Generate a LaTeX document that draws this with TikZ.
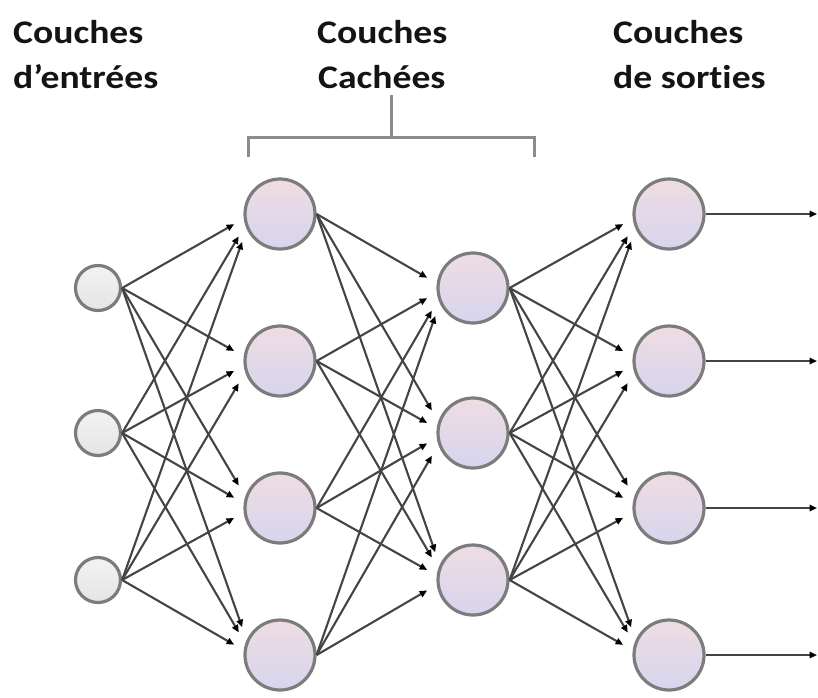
\documentclass[tikz,border=0pt]{standalone}
\usepackage{fontspec}
\setmainfont{Carlito}[FakeStretch=1.14,Ligatures=NoCommon]
\usetikzlibrary{arrows.meta,calc}
\definecolor{ringgray}{HTML}{7C7C7C}
\definecolor{pinktop}{HTML}{EFDCE2}
\definecolor{lavbot}{HTML}{D6D5EE}
\definecolor{intop}{HTML}{F3F3F3}
\definecolor{inbot}{HTML}{E4E4E4}
\definecolor{linkgray}{HTML}{444444}
\definecolor{brackgray}{HTML}{8C8C8C}
\tikzset{
  neuron/.style={circle, draw=ringgray, line width=3.2pt, minimum size=70pt, inner sep=0pt,
    top color=pinktop, bottom color=lavbot},
  inneuron/.style={circle, draw=ringgray, line width=3.2pt, minimum size=45pt, inner sep=0pt,
    top color=intop, bottom color=inbot},
  link/.style={draw=linkgray, line width=2.1pt,
    -{Triangle[length=7.5pt,width=6.5pt,color=black]}},
  brackline/.style={draw=brackgray, line width=3pt},
  lbl/.style={anchor=base west, inner sep=0pt, font=\fontsize{33}{40}\selectfont\bfseries, text=black!92}
}
\begin{document}
\begin{tikzpicture}[x=1pt,y=-1pt]
\useasboundingbox (0,0) rectangle (818,697);
% labels
\node[lbl] (t1a) at (13,43) {Couches};
\node[lbl] (t1b) at (13,88) {d’entrées};
\node[lbl] (t2a) at (317,43) {Couches};
\node[lbl] (t2b) at (318,88) {Cachées};
\node[lbl] (t3a) at (613,43) {Couches};
\node[lbl] (t3b) at (613,88) {de sorties};
% bracket
\coordinate (bl) at (248,157);
\coordinate (br) at (534,157);
\coordinate (bst) at (391,95);
\draw[brackline] (bl) |- (br |- 0,137) -- (br);
\draw[brackline] (bst) -- (bst |- 0,137);
% nodes
\foreach \i/\y in {1/288,2/433,3/580}{
  \node[inneuron] (in\i) at (98,\y) {};
  \node[neuron] (g\i) at (473,\y) {};
  \coordinate (ag\i) at (445,\y);
}
\foreach \j/\y in {1/214,2/361,3/508,4/655}{
  \node[neuron] (h\j) at (280,\y) {};
  \node[neuron] (o\j) at (669,\y) {};
  \coordinate (ah\j) at (252,\y);
  \coordinate (ao\j) at (641,\y);
  \coordinate (end\j) at (817,\y);
}
% input -> hidden 1
\foreach \i/\sy in {1/288,2/433,3/580}{
  \foreach \j/\ty in {1/214,2/361,3/508,4/655}{
    \pgfmathsetmacro\ddx{(252-122)/100}
    \pgfmathsetmacro\ddy{(\ty-\sy)/100}
    \pgfmathsetmacro\ux{\ddx/sqrt(\ddx*\ddx+\ddy*\ddy)}
    \pgfmathsetmacro\sh{sqrt(784*\ux*\ux+1425)-28*\ux}
    \draw[link] (in\i.east) -- ($(ah\j)!\sh pt!(in\i.east)$);
  }
}
% hidden 1 -> hidden 2
\foreach \i/\sy in {1/214,2/361,3/508,4/655}{
  \foreach \j/\ty in {1/288,2/433,3/580}{
    \pgfmathsetmacro\ddx{(445-316)/100}
    \pgfmathsetmacro\ddy{(\ty-\sy)/100}
    \pgfmathsetmacro\ux{\ddx/sqrt(\ddx*\ddx+\ddy*\ddy)}
    \pgfmathsetmacro\sh{sqrt(784*\ux*\ux+1425)-28*\ux}
    \draw[link] (h\i.east) -- ($(ag\j)!\sh pt!(h\i.east)$);
  }
}
% hidden 2 -> output
\foreach \i/\sy in {1/288,2/433,3/580}{
  \foreach \j/\ty in {1/214,2/361,3/508,4/655}{
    \pgfmathsetmacro\ddx{(641-509)/100}
    \pgfmathsetmacro\ddy{(\ty-\sy)/100}
    \pgfmathsetmacro\ux{\ddx/sqrt(\ddx*\ddx+\ddy*\ddy)}
    \pgfmathsetmacro\sh{sqrt(784*\ux*\ux+1425)-28*\ux}
    \draw[link] (g\i.east) -- ($(ao\j)!\sh pt!(g\i.east)$);
  }
}
% outputs
\foreach \j in {1,2,3,4}{
  \draw[link] (o\j.east) -- (end\j);
}
\end{tikzpicture}
\end{document}
